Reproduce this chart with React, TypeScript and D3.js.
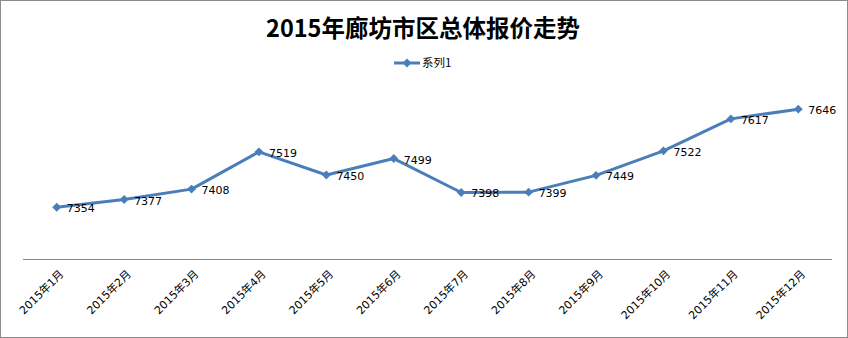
import React from "react";
import * as d3 from "d3";

const categories = ["2015年1月","2015年2月","2015年3月","2015年4月","2015年5月","2015年6月","2015年7月","2015年8月","2015年9月","2015年10月","2015年11月","2015年12月"];
const values = [7354, 7377, 7408, 7519, 7450, 7499, 7398, 7399, 7449, 7522, 7617, 7646];
const seriesName = "系列1";
const title = "2015年廊坊市区总体报价走势";

const W = 848, H = 338;
const plot = { left: 23, right: 832, top: 91, bottom: 259 };
const color = "#4A7EBB";

export default function App() {
  const x = d3.scaleBand().domain(categories).range([plot.left, plot.right]);
  const y = d3.scaleLinear().domain([7200, 7700]).range([plot.bottom, plot.top]);
  const cx = (c: string) => (x(c) ?? 0) + x.bandwidth() / 2;
  const line = d3.line<number>().x((_, i) => cx(categories[i])).y(v => y(v));
  const diamond = d3.symbol().type(d3.symbolDiamond2).size(50)() as string;
  return (
    <svg width={W} height={H} style={{ position: "absolute", left: 0, top: 0 }} fontFamily="'DejaVu Sans', Verdana, sans-serif">
      <rect x={0.5} y={0.5} width={W - 1} height={H - 1} fill="#fff" stroke="#8c8c8c" />
      <text x={423} y={37} textAnchor="middle" fontSize={23.5} fontWeight="bold" fontFamily="'Noto Sans CJK SC', sans-serif" fill="#000">{title}</text>
      <g>
        <line x1={394} x2={420} y1={63} y2={63} stroke={color} strokeWidth={3} />
        <path d={diamond} transform="translate(407,63)" fill={color} />
        <text x={422} y={67} fontSize={11.5} fontFamily="'Noto Sans CJK SC', sans-serif" fill="#000">{seriesName}</text>
      </g>
      <line x1={plot.left} x2={plot.right} y1={plot.bottom + 0.5} y2={plot.bottom + 0.5} stroke="#868686" strokeWidth={1} />
      <path d={line(values) ?? ""} fill="none" stroke={color} strokeWidth={3} strokeLinejoin="round" />
      {values.map((v, i) => (
        <g key={i}>
          <path d={diamond} transform={`translate(${cx(categories[i])},${y(v)})`} fill={color} />
          <text x={cx(categories[i]) + 10} y={y(v) + 5} fontSize={11} fill="#000">{v}</text>
        </g>
      ))}
      {categories.map((c, i) => (
        <text key={i} transform={`translate(${cx(c) + 2},${plot.bottom + 10}) rotate(-45)`} textAnchor="end" fontSize={11} fontFamily="'DejaVu Sans', 'Noto Sans CJK SC', sans-serif" fill="#000" dominantBaseline="hanging">{c}</text>
      ))}
    </svg>
  );
}
